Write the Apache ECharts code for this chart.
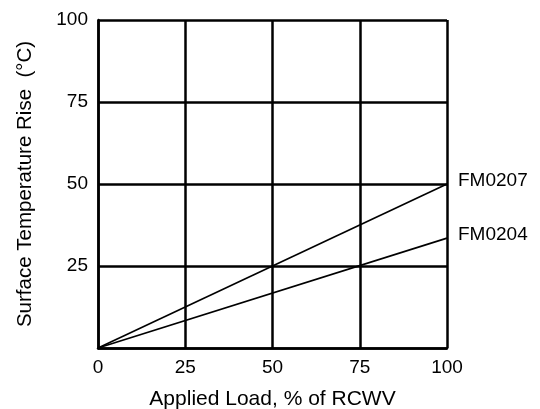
<!DOCTYPE html>
<html><head><meta charset="utf-8">
<script src="https://cdn.jsdelivr.net/npm/echarts@6/dist/echarts.min.js"></script>
<style>html,body{margin:0;padding:0;background:#fff}#c{width:540px;height:409px}</style>
</head><body><div id="c"></div>
<script>
const xValues = [0, 100];
const fm0207 = [0, 50];
const fm0204 = [0, 33.5];
const seriesNames = ['FM0207', 'FM0204'];
const font = 'Liberation Sans, Arial, sans-serif';

const chart = echarts.init(document.getElementById('c'), null, {renderer: 'canvas'});
const mk = (name, ys) => ({
  name: name, type: 'line', data: xValues.map((x, i) => [x, ys[i]]),
  showSymbol: false, symbol: 'none', animation: false,
  lineStyle: {color: '#000', width: 1.6},
  endLabel: {show: true, formatter: '{a}', color: '#000', fontSize: 19, fontFamily: font, distance: 11, offset: [0, -3]}
});
chart.setOption({
  animation: false,
  grid: {left: 98, right: 93, top: 20, bottom: 61, containLabel: false, outerBoundsMode: 'none'},
  xAxis: {
    type: 'value', min: 0, max: 100, interval: 25,
    name: 'Applied Load, % of RCWV', nameLocation: 'middle', nameGap: 41,
    nameTextStyle: {color: '#000', fontSize: 21, fontFamily: font},
    axisLine: {show: true, lineStyle: {color: '#000', width: 2.5}},
    axisTick: {show: false},
    axisLabel: {color: '#000', fontSize: 19, fontFamily: font, margin: 10},
    splitLine: {show: true, lineStyle: {color: '#000', width: 2.5}}
  },
  yAxis: {
    type: 'value', min: 0, max: 100, interval: 25,
    name: 'Surface Temperature Rise  (°C)', nameLocation: 'middle', nameGap: 62,
    nameTextStyle: {color: '#000', fontSize: 20.5, fontFamily: font},
    axisLine: {show: true, lineStyle: {color: '#000', width: 2.5}},
    axisTick: {show: false},
    axisLabel: {color: '#000', fontSize: 19, fontFamily: font, margin: 10,
      formatter: v => v === 0 ? '' : String(v)},
    splitLine: {show: true, lineStyle: {color: '#000', width: 2.5}}
  },
  series: [mk(seriesNames[0], fm0207), mk(seriesNames[1], fm0204)]
});
</script></body></html>
